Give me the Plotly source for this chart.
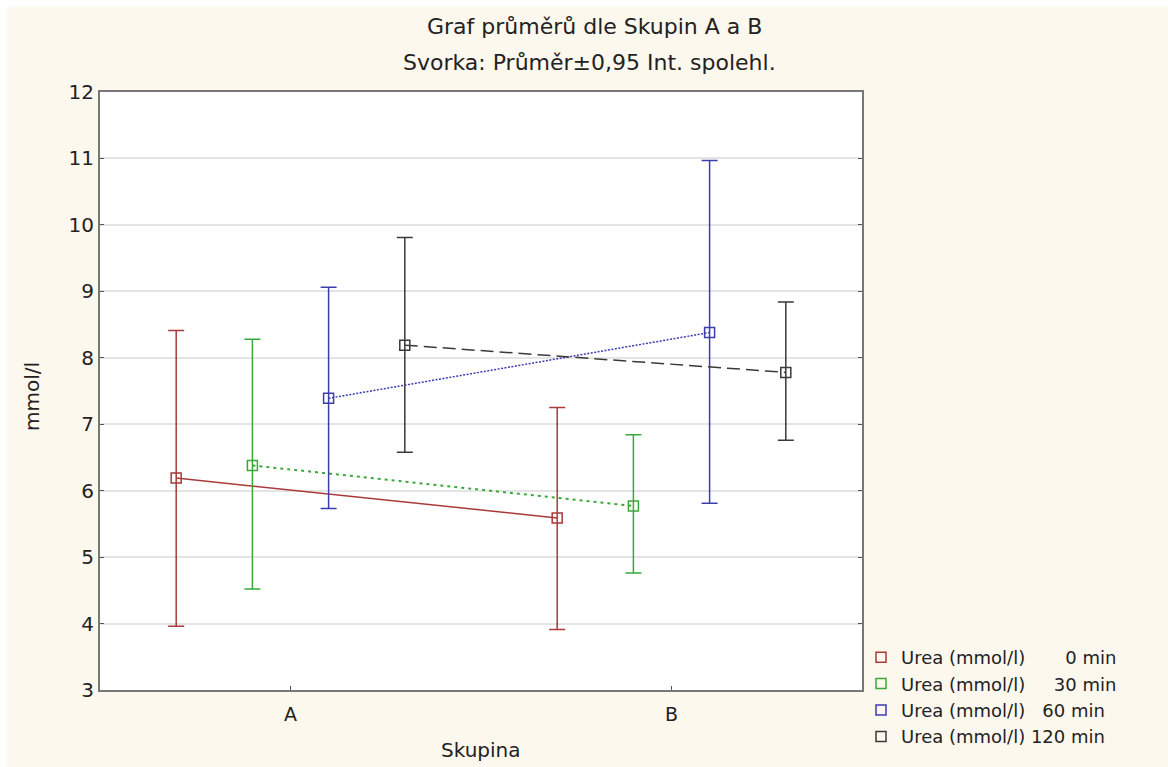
import plotly.graph_objects as go

# Groups and time points
groups = ["A", "B"]
series_names = [
    "Urea (mmol/l)\u2007\u2007\u2007 0 min",
    "Urea (mmol/l)\u2007\u2007 30 min",
    "Urea (mmol/l)\u2007 60 min",
    "Urea (mmol/l) 120 min",
]

# Means and 95 % confidence limits per group (A, B)
mean_0 = [6.19, 5.59]
upper_0 = [8.41, 7.25]
lower_0 = [3.96, 3.91]

mean_30 = [6.38, 5.77]
upper_30 = [8.28, 6.84]
lower_30 = [4.52, 4.76]

mean_60 = [7.39, 8.38]
upper_60 = [9.06, 10.97]
lower_60 = [5.73, 5.81]

mean_120 = [8.19, 7.78]
upper_120 = [9.81, 8.84]
lower_120 = [6.58, 6.76]

means = [mean_0, mean_30, mean_60, mean_120]
uppers = [upper_0, upper_30, upper_60, upper_120]
lowers = [lower_0, lower_30, lower_60, lower_120]

colors = ["#a83a3a", "#3aa83a", "#3c3cb0", "#3a3a3a"]
dashes = ["solid", "3px,4px", "2px,1.5px", "13px,6px"]
line_widths = [1.5, 2, 1.5, 1.5]
offsets = [-0.3, -0.1, 0.1, 0.3]

W, H = 1168, 767
L, R, T, B = 100, 306, 92, 77
plot_w = W - L - R
plot_h = H - T - B

def px_x(p):
    return (p - L) / plot_w

def px_y(p):
    return (H - B - p) / plot_h

fig = go.Figure()

for k in range(4):
    xs = [i + offsets[k] for i in range(len(groups))]
    m = means[k]
    err_up = [u - v for u, v in zip(uppers[k], m)]
    err_dn = [v - lo for v, lo in zip(m, lowers[k])]
    fig.add_trace(go.Scatter(
        x=xs, y=m, mode="lines",
        line=dict(color=colors[k], width=line_widths[k], dash=dashes[k]),
        showlegend=False, hoverinfo="skip",
    ))
    fig.add_trace(go.Scatter(
        x=xs, y=m, mode="markers", name=series_names[k],
        marker=dict(symbol="square-open", size=10, color=colors[k],
                    line=dict(width=1.5, color=colors[k])),
        error_y=dict(type="data", symmetric=False, array=err_up,
                     arrayminus=err_dn, color=colors[k], thickness=1.5,
                     width=8),
    ))

font_family = "DejaVu Sans, Liberation Sans, Arial, sans-serif"
txt = "#222222"

# Title lines, axis titles
fig.add_annotation(text="Graf průměrů dle Skupin A a B", xref="paper",
                   yref="paper", x=px_x(594), y=px_y(27), showarrow=False,
                   font=dict(size=22, color=txt, family=font_family),
                   xanchor="center", yanchor="middle")
fig.add_annotation(text="Svorka: Průměr±0,95 Int. spolehl.", xref="paper",
                   yref="paper", x=px_x(589), y=px_y(62), showarrow=False,
                   font=dict(size=22, color=txt, family=font_family),
                   xanchor="center", yanchor="middle")
fig.add_annotation(text="mmol/l", xref="paper", yref="paper",
                   x=px_x(32), y=px_y(397), showarrow=False, textangle=-90,
                   font=dict(size=20, color=txt, family=font_family),
                   xanchor="center", yanchor="middle")
fig.add_annotation(text="Skupina", xref="paper", yref="paper",
                   x=px_x(481), y=px_y(750), showarrow=False,
                   font=dict(size=20, color=txt, family=font_family),
                   xanchor="center", yanchor="middle")

# White frame strips along the top and left edges (pixel-sized)
fig.add_shape(type="rect", xref="paper", yref="paper",
              xsizemode="pixel", ysizemode="pixel", xanchor=0, yanchor=1,
              x0=-L, x1=W, y0=T - 7, y1=T + 2,
              fillcolor="white", line=dict(width=0), layer="below")
fig.add_shape(type="rect", xref="paper", yref="paper",
              xsizemode="pixel", ysizemode="pixel", xanchor=0, yanchor=1,
              x0=-L - 2, x1=-L + 7, y0=-H, y1=T + 2,
              fillcolor="white", line=dict(width=0), layer="below")

fig.update_layout(
    width=W, height=H,
    margin=dict(l=L, r=R, t=T, b=B),
    paper_bgcolor="#fdf8ee",
    plot_bgcolor="white",
    font=dict(family=font_family, size=19, color=txt),
    showlegend=True,
    legend=dict(x=px_x(861), y=px_y(755), xanchor="left", yanchor="bottom",
                bgcolor="rgba(0,0,0,0)", font=dict(size=18, color=txt),
                tracegroupgap=0, itemwidth=30),
)

fig.update_xaxes(
    range=[-0.5, 1.5], tickvals=list(range(len(groups))), ticktext=groups,
    showgrid=False, zeroline=False, showline=True, mirror=True,
    linecolor="#777777", linewidth=2, ticks="inside", ticklen=4,
    tickcolor="#555555", tickfont=dict(size=19), ticklabelstandoff=6,
)
fig.update_yaxes(
    range=[3, 12], dtick=1, showgrid=True, gridcolor="#e4e4e4", gridwidth=1.5,
    zeroline=False, showline=True, mirror="allticks",
    linecolor="#777777", linewidth=2, ticks="inside", ticklen=4,
    tickcolor="#555555", tickfont=dict(size=20), ticklabelstandoff=0,
)

fig.write_html("out.html")
